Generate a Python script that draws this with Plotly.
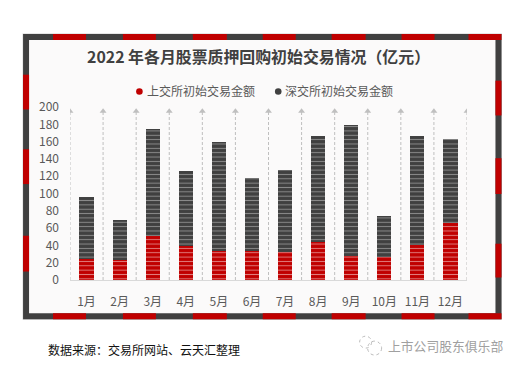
import plotly.graph_objects as go

months = ["1月","2月","3月","4月","5月","6月","7月","8月","9月","10月","11月","12月"]
sse_values = [24.7,23,51,39,34,34,32,43.5,28,27,41,65.7]
szse_values = [71,46.5,124,87,125,84,95,122.5,150.7,47,126,96.8]
series_names = ["上交所初始交易金额","深交所初始交易金额"]
y_ticks = [0,20,40,60,80,100,120,140,160,180,200]
title_text = "2022 年各月股票质押回购初始交易情况（亿元）"
source_text = "数据来源：交易所网站、云天汇整理"
watermark_text = "上市公司股东俱乐部"

RED = "#C00000"; DARK = "#404040"
FONT = "Noto Sans CJK SC"
# the page body has an 8px margin, so the figure is 8px smaller and everything is shifted
W, H = 512, 362
PL, PT, PW, PH = 70, 106.5, 397.5, 174

def px(x): return (x - PL) / PW
def py(y): return 1 - (y - PT) / PH

def rect(x0, y0, x1, y1, color):
    return dict(type="rect", xref="paper", yref="paper", layer="below",
                x0=px(x0), x1=px(x1), y0=py(y0), y1=py(y1), fillcolor=color,
                line=dict(width=0))

shapes = [rect(22.5,32.5,502.5,320.5,"#D0D0D0"),
          rect(23,33,502,320,DARK),
          rect(29,39,496,314,"#FBFAFA")]
for a, b in [(53,86),(123,156),(193,227),(263,296),(332,366),(402,435),(469,502)]:
    shapes += [rect(a,33,b,39,RED), rect(a,314,b,320,RED)]
for a, b in [(74,109),(149,184),(236,272)]:
    shapes.append(rect(23,a,29,b,RED))
for a, b in [(80,115),(158,194),(244,278)]:
    shapes.append(rect(496,a,502,b,RED))
# watermark icon
for cx, cy, r in [(366,343,6),(375,349,7)]:
    shapes.append(dict(type="circle", xref="paper", yref="paper",
                       x0=px(cx-r), x1=px(cx+r), y0=py(cy+r), y1=py(cy-r),
                       line=dict(color="#BBBBBB", width=1, dash="dot")))
# legend keys
for cx, color in [(139.5, RED), (278.5, DARK)]:
    shapes.append(dict(type="circle", xref="paper", yref="paper",
                       x0=px(cx-3.3), x1=px(cx+3.3), y0=py(94.3), y1=py(87.7),
                       fillcolor=color, line=dict(width=0)))

xs = list(range(1, 13))
edges = [i + 0.5 for i in range(0, 13)]
fig = go.Figure()

guide_x, guide_y = [], []
for e in edges:
    guide_x += [e, e, None]; guide_y += [0, 195, None]
fig.add_trace(go.Scatter(x=guide_x, y=guide_y, mode="lines", showlegend=False, hoverinfo="skip",
                         line=dict(color="#BFBFBF", width=1, dash="3px,2px")))
fig.add_trace(go.Scatter(x=edges, y=[195]*13, mode="markers", showlegend=False, hoverinfo="skip",
                         marker=dict(symbol="triangle-up", size=6, color="#BFBFBF")))

def bar(vals, color, stripe, name):
    return go.Bar(x=xs, y=vals, width=0.43, name=name, showlegend=False,
                  marker=dict(color=color, line=dict(width=0),
                              pattern=dict(shape="-", size=4.35, solidity=0.22,
                                           fgcolor=stripe, bgcolor=color,
                                           fillmode="replace")))
fig.add_trace(bar(sse_values, RED, "#E08080", series_names[0]))
fig.add_trace(bar(szse_values, DARK, "#8C8C8C", series_names[1]))

def label(text, x, y, anchor, size, color, **kw):
    return dict(text=text, xref="paper", yref="paper", x=px(x), y=py(y), xanchor=anchor,
                yanchor="middle", showarrow=False, borderpad=0,
                font=dict(family=FONT, size=size, color=color), **kw)

fig.update_layout(
    width=W, height=H, barmode="stack", paper_bgcolor="white", plot_bgcolor="rgba(0,0,0,0)",
    margin=dict(l=PL-8, r=W-(PL-8)-PW, t=PT-8, b=H-(PT-8)-PH),
    font=dict(family=FONT, color="#595959", size=12),
    shapes=shapes, showlegend=False,
    xaxis=dict(range=[0.5,12.5], tickvals=xs, ticktext=months, showgrid=False, zeroline=False,
               showline=True, linecolor="#D9D9D9", linewidth=1, ticks="", ticklabelstandoff=11,
               tickfont=dict(size=12, color="#595959")),
    yaxis=dict(range=[0,200], tickvals=y_ticks, showgrid=False, zeroline=False, showline=False,
               ticks="", ticklabelstandoff=10, tickfont=dict(size=12, color="#595959")),
    annotations=[
        label("<b>%s</b>" % title_text, 259, 56, "center", 15.9, DARK),
        label(series_names[0], 146, 90, "left", 12, "#595959"),
        label(series_names[1], 284, 90, "left", 12, "#595959"),
        label(source_text, 47, 350, "left", 12, "#111111"),
        label(watermark_text, 505, 346, "right", 12.8, "#A0A0A0"),
    ],
)
fig.write_html("out.html", config=dict(displayModeBar=False))
